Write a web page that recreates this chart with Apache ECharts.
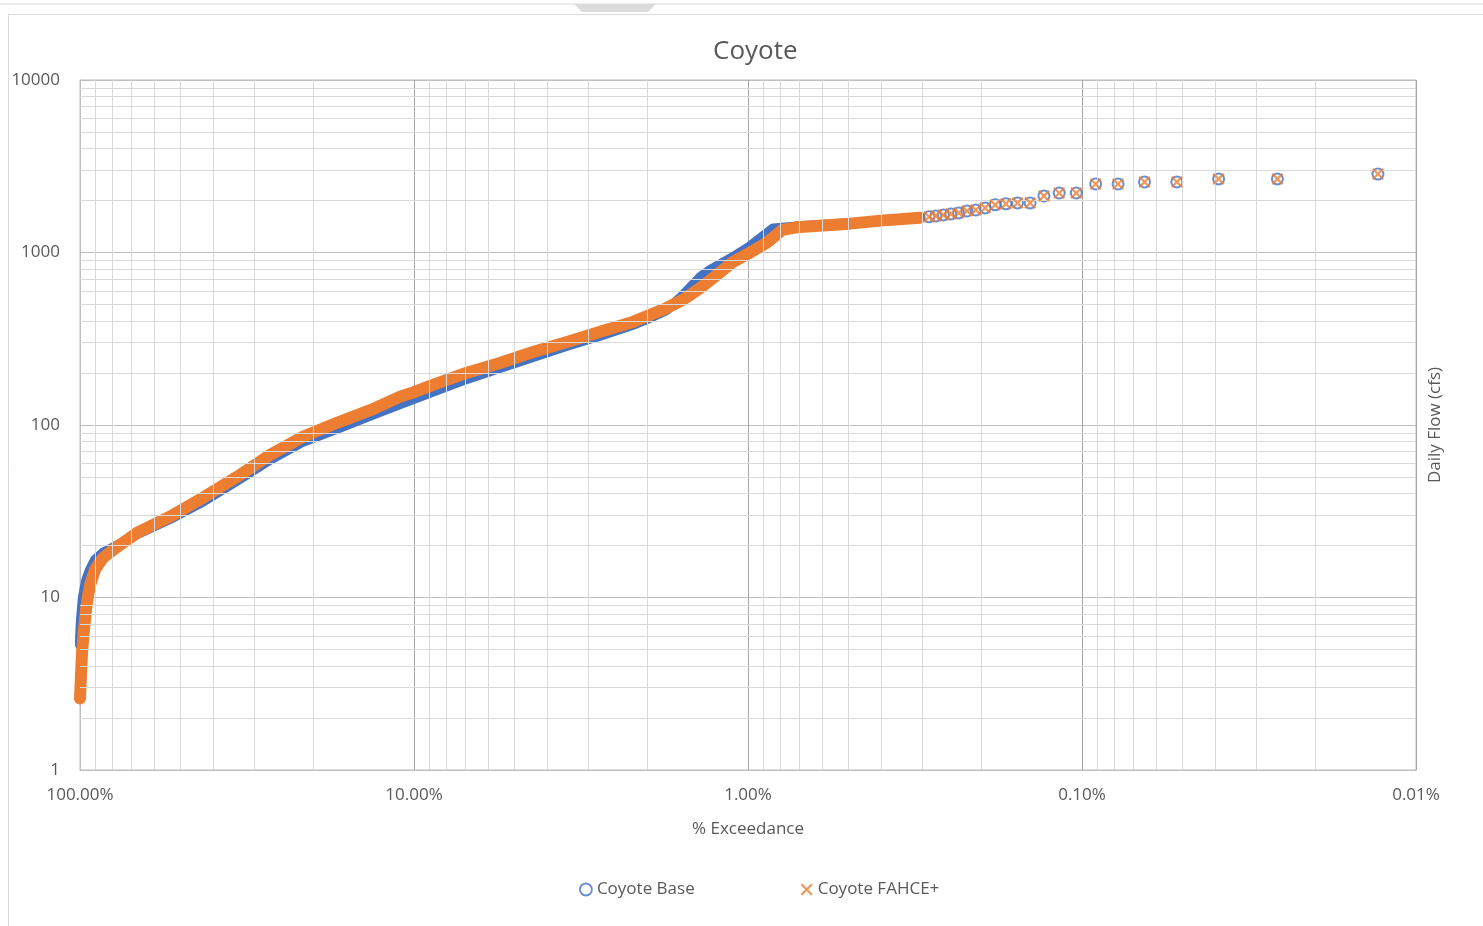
<!DOCTYPE html>
<html lang="en">
<head>
    <meta charset="UTF-8">
    <title>Coyote</title>
    <style>
        html, body { margin: 0; padding: 0; background: #fff; }
        #container { width: 1483px; height: 926px; }
    </style>
</head>
<body>
    <div id="container"></div>
    <script src="https://cdn.jsdelivr.net/npm/echarts@6/dist/echarts.min.js"></script>
    <script>
        // exceedance (%) and daily flow (cfs)
        const baseP    = [99.99, 99.9, 99.3, 98.0, 95.9, 93.3, 90.2, 85.3, 77.5, 67.5, 53.8, 42.8, 33.9, 27.0, 21.5, 17.0, 13.1, 10.0, 6.94, 5.53, 4.40, 3.48, 2.77, 2.21, 1.97, 1.75, 1.57, 1.39, 1.30, 1.11, 0.99, 0.88, 0.84, 0.70, 0.495, 0.40, 0.306];
        const baseFlow = [5.3, 6.0, 7.5, 10, 12.5, 14.5, 16.5, 18.2, 20.0, 23.3, 28.5, 36, 47.5, 62.8, 80, 95, 116, 142, 185, 214, 248, 288, 329, 381, 418, 465, 561, 720, 790, 940, 1080, 1290, 1380, 1420, 1480, 1530, 1600];

        const fahceP    = [99.99, 99.3, 98.6, 97.3, 95.9, 94.6, 93.3, 90.2, 85.3, 77.5, 67.5, 53.8, 42.8, 33.9, 27.0, 21.5, 17.0, 13.1, 11.0, 10.0, 8.77, 6.94, 5.53, 4.40, 3.48, 2.77, 2.21, 1.75, 1.57, 1.39, 1.24, 1.11, 0.99, 0.88, 0.79, 0.70, 0.495, 0.40, 0.306];
        const fahceFlow = [2.6, 3.6, 4.8, 6.5, 8.5, 10.3, 11.8, 14.5, 17, 19.6, 23.7, 29.4, 37.9, 50, 67, 85.5, 103, 125, 146, 155, 171, 201, 229, 265, 303, 347, 396, 477, 531, 623, 741, 882, 995, 1137, 1352, 1407, 1470, 1530, 1590];

        // highest flows, plotted as separate markers
        const tailP         = [0.287, 0.274, 0.260, 0.247, 0.234, 0.221, 0.208, 0.195, 0.182, 0.169, 0.156, 0.143, 0.130, 0.117, 0.104, 0.091, 0.078, 0.065, 0.052, 0.039, 0.026, 0.013];
        const baseTailFlow  = [1609, 1630, 1652, 1674, 1696, 1741, 1764, 1813, 1889, 1914, 1938, 1938, 2128, 2213, 2213, 2497, 2497, 2564, 2564, 2670, 2670, 2850];
        const fahceTailFlow = [1609, 1630, 1652, 1674, 1696, 1741, 1764, 1813, 1889, 1914, 1938, 1938, 2128, 2213, 2213, 2497, 2497, 2564, 2564, 2670, 2670, 2850];

        // minor gridlines (log axes)
        const minorX = [0.02, 0.03, 0.04, 0.05, 0.06, 0.07, 0.08, 0.09, 0.2, 0.3, 0.4, 0.5, 0.6, 0.7, 0.8, 0.9, 2, 3, 4, 5, 6, 7, 8, 9, 20, 30, 40, 50, 60, 70, 80, 90];
        const minorY = [2, 3, 4, 5, 6, 7, 8, 9, 20, 30, 40, 50, 60, 70, 80, 90, 200, 300, 400, 500, 600, 700, 800, 900, 2000, 3000, 4000, 5000, 6000, 7000, 8000, 9000];

        const zip = (a, b) => a.map((v, i) => [v, b[i]]);
        const txt = '#595959';
        const font = 'Open Sans';
        const xIcon = 'path://M0,1.3L1.3,0L5,3.7L8.7,0L10,1.3L6.3,5L10,8.7L8.7,10L5,6.3L1.3,10L0,8.7L3.7,5Z';

        const gridLines = [];
        minorX.forEach(v => gridLines.push({ xAxis: v }));
        minorY.forEach(v => gridLines.push({ yAxis: v }));

        const option = {
            animation: false,
            backgroundColor: '#fff',
            textStyle: { fontFamily: font },
            title: {
                text: 'Coyote',
                left: 708,
                top: 34,
                textStyle: { color: txt, fontSize: 26, fontWeight: 'normal', fontFamily: font }
            },
            grid: {
                left: 80, right: 67, top: 80, bottom: 156,
                show: true, borderColor: '#bfbfbf', borderWidth: 1
            },
            legend: {
                left: 574,
                top: 876,
                itemGap: 106,
                itemWidth: 12,
                itemHeight: 12,
                itemStyle: { borderWidth: 0 },
                textStyle: { color: txt, fontSize: 17, fontFamily: font },
                data: [
                    { name: 'Coyote Base', icon: 'circle', itemStyle: { color: 'rgba(255,255,255,0)', borderColor: '#4472C4', borderWidth: 1.8 } },
                    { name: 'Coyote FAHCE+', icon: xIcon, itemStyle: { color: '#ED7D31' } }
                ]
            },
            xAxis: {
                type: 'log',
                logBase: 10,
                min: 0.01,
                max: 100,
                inverse: true,
                name: '% Exceedance',
                nameLocation: 'middle',
                nameGap: 51,
                nameTextStyle: { color: txt, fontSize: 17, fontFamily: font },
                axisLine: { lineStyle: { color: '#bfbfbf' } },
                axisTick: { show: false },
                axisLabel: {
                    color: txt, fontSize: 17, margin: 17, fontFamily: font,
                    formatter: v => v.toFixed(2) + '%'
                },
                splitLine: { show: true, lineStyle: { color: '#a6a6a6', width: 1 } }
            },
            yAxis: {
                type: 'log',
                logBase: 10,
                min: 1,
                max: 10000,
                axisLine: { show: true, lineStyle: { color: '#bfbfbf' } },
                axisTick: { show: false },
                axisLabel: {
                    color: txt, fontSize: 17, margin: 20, fontFamily: font,
                    formatter: v => String(Math.round(v))
                },
                splitLine: { show: true, lineStyle: { color: '#bfbfbf', width: 1 } }
            },
            graphic: [
                { type: 'line', shape: { x1: 0, y1: 4, x2: 1483, y2: 4 }, style: { stroke: '#d9d9d9', lineWidth: 1 }, silent: true },
                { type: 'polygon', shape: { points: [[574, 4], [656, 4], [648, 12], [582, 12]] }, style: { fill: '#dcdcdc' }, silent: true },
                { type: 'rect', shape: { x: 8.5, y: 14.5, width: 1490, height: 920 }, style: { fill: 'none', stroke: '#d9d9d9', lineWidth: 1 }, silent: true, z: -1 },
                {
                    type: 'text',
                    x: 1435, y: 425,
                    rotation: Math.PI / 2,
                    style: { text: 'Daily Flow (cfs)', fill: txt, font: '17px "Open Sans"', textAlign: 'center', textVerticalAlign: 'middle' },
                    silent: true
                }
            ],
            series: [
                {
                    name: 'grid',
                    type: 'line',
                    data: [],
                    z: 1,
                    silent: true,
                    markLine: {
                        silent: true,
                        symbol: ['none', 'none'],
                        label: { show: false },
                        lineStyle: { color: '#d9d9d9', width: 1, type: 'solid' },
                        emphasis: { disabled: true },
                        data: gridLines
                    }
                },
                {
                    name: 'baseBand',
                    type: 'line',
                    data: zip(baseP, baseFlow),
                    showSymbol: false,
                    clip: false,
                    z: 2,
                    lineStyle: { color: '#4472C4', width: 10, cap: 'round', join: 'round' }
                },
                {
                    name: 'fahceBand',
                    type: 'line',
                    data: zip(fahceP, fahceFlow),
                    showSymbol: false,
                    clip: false,
                    z: 3,
                    lineStyle: { color: '#ED7D31', width: 12, cap: 'round', join: 'round' }
                },
                {
                    name: 'Coyote Base',
                    type: 'scatter',
                    data: zip(tailP, baseTailFlow),
                    symbol: 'circle',
                    symbolSize: 11,
                    z: 4,
                    itemStyle: { color: 'rgba(255,255,255,0)', borderColor: '#4472C4', borderWidth: 2 }
                },
                {
                    name: 'Coyote FAHCE+',
                    type: 'scatter',
                    data: zip(tailP, fahceTailFlow),
                    symbol: xIcon,
                    symbolSize: 12,
                    z: 5,
                    itemStyle: { color: '#ED7D31' }
                }
            ]
        };

        const chart = echarts.init(document.getElementById('container'));
        chart.setOption(option);
    </script>
</body>
</html>
